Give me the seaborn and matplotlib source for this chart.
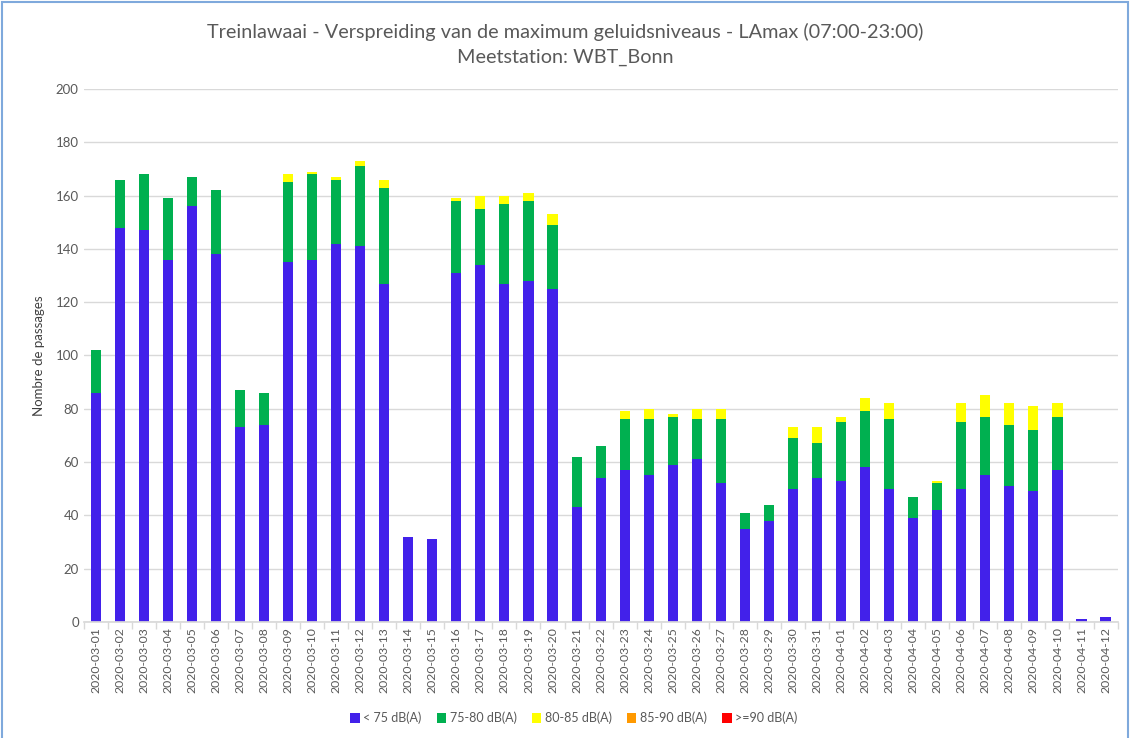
import numpy as np
import pandas as pd
import matplotlib.pyplot as plt
import seaborn as sns
from matplotlib.patches import Patch, Rectangle

# data
dates = pd.date_range('2020-03-01', '2020-04-12').strftime('%Y-%m-%d').tolist()

below_75 = [86, 148, 147, 136, 156, 138, 73, 74, 135, 136, 142, 141, 127, 32, 31,
            131, 134, 127, 128, 125, 43, 54, 57, 55, 59, 61, 52, 35, 38, 50, 54,
            53, 58, 50, 39, 42, 50, 55, 51, 49, 57, 1, 2]
db_75_80 = [16, 18, 21, 23, 11, 24, 14, 12, 30, 32, 24, 30, 36, 0, 0,
            27, 21, 30, 30, 24, 19, 12, 19, 21, 18, 15, 24, 6, 6, 19, 13,
            22, 21, 26, 8, 10, 25, 22, 23, 23, 20, 0, 0]
db_80_85 = [0, 0, 0, 0, 0, 0, 0, 0, 3, 1, 1, 2, 3, 0, 0,
            1, 5, 3, 3, 4, 0, 0, 3, 4, 1, 4, 4, 0, 0, 4, 6,
            2, 5, 6, 0, 1, 7, 8, 8, 9, 5, 0, 0]
db_85_90 = [0] * 43
db_90 = [0] * 43

labels = ['< 75 dB(A)', '75-80 dB(A)', '80-85 dB(A)', '85-90 dB(A)', '>=90 dB(A)']
colors = ['#4221EA', '#00B050', '#FFFF00', '#FF9900', '#FF0000']

df = pd.DataFrame({'date': dates, labels[0]: below_75, labels[1]: db_75_80,
                   labels[2]: db_80_85, labels[3]: db_85_90, labels[4]: db_90})

sns.set_theme(style='white')
plt.rcParams['font.family'] = ['Lato', 'DejaVu Sans']

fig = plt.figure(figsize=(11.3, 7.38), dpi=100)
ax = fig.add_axes([0.074, 0.157, 0.915, 0.7226])

# stacked bars: draw cumulative totals, tallest first
cum = df[labels].cumsum(axis=1)
for lab, col in reversed(list(zip(labels, colors))):
    sns.barplot(x=df['date'], y=cum[lab], color=col, width=0.42, saturation=1,
                linewidth=0, ax=ax)

ax.set_ylim(0, 200)
ax.set_xlim(-0.5, len(dates) - 0.5)
ax.set_yticks(range(0, 201, 20))
ax.yaxis.grid(True, color='#D9D9D9', linewidth=1)
ax.set_axisbelow(True)
for s in ['top', 'right', 'left']:
    ax.spines[s].set_visible(False)
ax.spines['bottom'].set_color('#D9D9D9')
ax.tick_params(axis='y', labelsize=9.5, colors='#595959', length=0)
ax.tick_params(axis='x', labelsize=8.8, colors='#595959', length=0, rotation=90)
ax.set_xticks(np.arange(-0.5, len(dates), 1), minor=True)
ax.tick_params(axis='x', which='minor', length=5, color='#D9D9D9', bottom=True)
ax.set_xlabel('')
ax.set_ylabel('Nombre de passages', fontsize=9.5, color='#404040', labelpad=8)

fig.text(0.5, 0.957, 'Treinlawaai - Verspreiding van de maximum geluidsniveaus - LAmax (07:00-23:00)',
         ha='center', va='center', fontsize=14.3, color='#595959')
fig.text(0.5, 0.922, 'Meetstation: WBT_Bonn', ha='center', va='center', fontsize=14.3,
         color='#595959')

handles = [Patch(facecolor=c, edgecolor='none') for c in colors]
fig.legend(handles, labels, loc='center', bbox_to_anchor=(0.508, 0.027), ncol=5,
           frameon=False, fontsize=9, handlelength=0.75, handleheight=0.75,
           handletextpad=0.3, columnspacing=1.2, labelcolor='#595959')

fig.add_artist(Rectangle((0.002, -0.01), 0.996, 1.007, transform=fig.transFigure,
                         fill=False, edgecolor='#7FA9DC', linewidth=1.5))

fig.savefig('out.png', dpi=100)
